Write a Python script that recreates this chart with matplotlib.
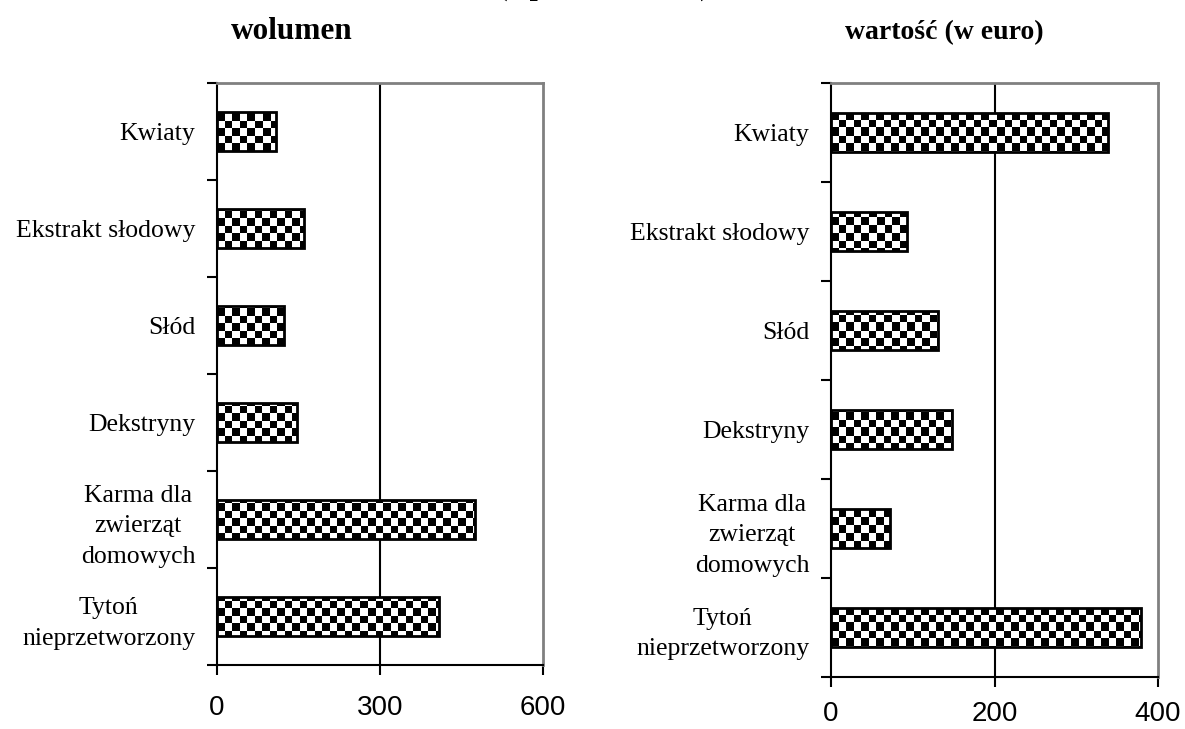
import numpy as np
import matplotlib
matplotlib.use("Agg")
import matplotlib.pyplot as plt

# categories bottom -> top (Excel order)
categories = ["Tytoń\nnieprzetworzony", "Karma dla\nzwierząt\ndomowych",
              "Dekstryny", "Słód", "Ekstrakt słodowy", "Kwiaty"]
volume = [409, 475, 147, 123, 160, 109]
value_eur = [379, 72, 148, 131, 93, 339]
volume_ticks = [0, 300, 600]
value_ticks = [0, 200, 400]

title_top = "(1 półrocze 2008)"
title_left = "wolumen"
title_right = "wartość (w euro)"

serif = "Liberation Serif"
sans = "Liberation Sans"
DPI = 100

fig = plt.figure(figsize=(11.85, 7.29), dpi=DPI)


def checker_bars(ax, vals, ticks, xpad):
    y = np.arange(len(vals))
    # pixel exact checkerboard covering the axes, clipped to each bar
    w_px = int(round(fig.get_figwidth() * DPI * ax.get_position().width))
    h_px = int(round(fig.get_figheight() * DPI * ax.get_position().height))
    xx, yy = np.meshgrid(np.arange(w_px), np.arange(h_px))
    cell = 7.5
    board = ((np.floor(xx / cell) + np.floor(yy / cell)) % 2).astype(float)
    bars = ax.barh(y, vals, height=0.4, facecolor="none", edgecolor="black",
                   linewidth=2, zorder=3)
    for b in bars:
        im = ax.imshow(board, cmap="gray", vmin=0, vmax=1, extent=(0, 1, 0, 1),
                       transform=ax.transAxes, aspect="auto",
                       interpolation="nearest", origin="upper", zorder=2)
        im.set_clip_path(b)
    ax.axvline(ticks[1], color="black", linewidth=1.5, zorder=1)
    ax.set_xlim(ticks[0], ticks[-1])
    ax.set_ylim(-0.5, len(vals) - 0.5)

    ax.set_xticks(ticks)
    ax.set_xticklabels([str(t) for t in ticks], fontfamily=sans, fontsize=20)
    ax.tick_params(axis="x", direction="out", length=7, width=1.5, pad=xpad)

    ax.set_yticks(np.arange(len(vals) + 1) - 0.5)
    ax.set_yticklabels([])
    ax.set_yticks(y, minor=True)
    ax.set_yticklabels(categories, minor=True, fontfamily=serif, fontsize=18.5)
    ax.tick_params(axis="y", which="major", direction="out", length=7, width=1.5)
    ax.tick_params(axis="y", which="minor", length=0, pad=15.5)
    for lab in ax.get_yticklabels(minor=True):
        lab.set_multialignment("center")
        lab.set_linespacing(1.5)

    for s in ("top", "right"):
        ax.spines[s].set_color("#808080")
        ax.spines[s].set_linewidth(2)
    for s in ("left", "bottom"):
        ax.spines[s].set_color("black")
        ax.spines[s].set_linewidth(1.5)


ax1 = fig.add_axes([217 / 1185, 1 - 665 / 729, 326 / 1185, 582 / 729])
ax2 = fig.add_axes([831 / 1185, 1 - 677 / 729, 327 / 1185, 594 / 729])
checker_bars(ax1, volume, volume_ticks, 14.5)
checker_bars(ax2, value_eur, value_ticks, 10)

# main title sits mostly above the page edge, as in the source
fig.text(604 / 1185, 1 + 5 / 729, title_top, ha="center", va="baseline",
         fontfamily=serif, fontweight="bold", fontsize=21)
fig.text(292 / 1185, 1 - 39 / 729, title_left, ha="center", va="baseline",
         fontfamily=serif, fontweight="bold", fontsize=22.5)
fig.text(944 / 1185, 1 - 39 / 729, title_right, ha="center", va="baseline",
         fontfamily=serif, fontweight="bold", fontsize=20)

fig.savefig("out.png", dpi=DPI)
